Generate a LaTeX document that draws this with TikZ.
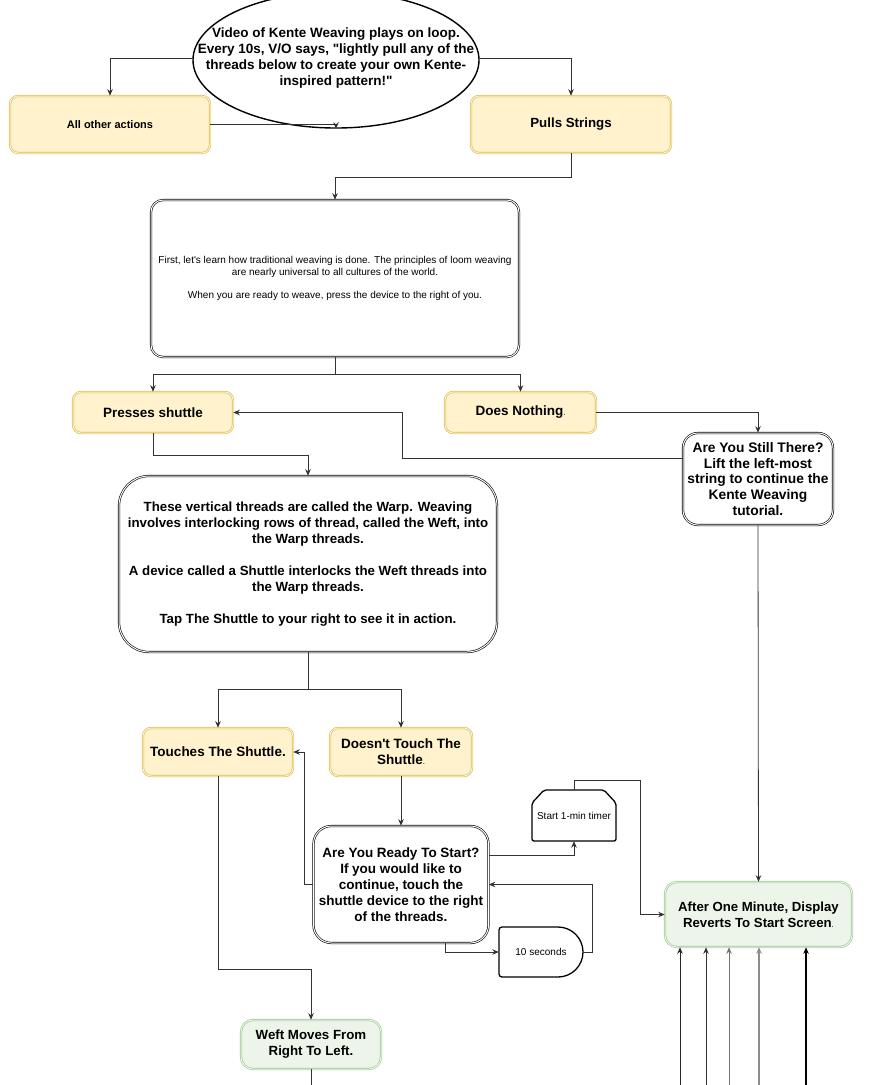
\documentclass[tikz,border=0pt]{standalone}
\usepackage{fontspec}
\setmainfont{Liberation Sans}[Ligatures=TeXOff]
\usetikzlibrary{shapes.geometric,arrows.meta}
\definecolor{yfill}{HTML}{FFF2CC}
\definecolor{ybord}{HTML}{D9BC5C}
\definecolor{gfill}{HTML}{EDF5EA}
\definecolor{gbord}{HTML}{98C78C}
\definecolor{conncol}{HTML}{333333}
\begin{document}
\begin{tikzpicture}[x=1pt,y=-1pt,
  yel/.style={draw=ybord, double=yfill, double distance=1pt, line width=0.6pt, fill=yfill, rounded corners=8pt, align=center, inner sep=2pt},
  grn/.style={draw=gbord, double=gfill, double distance=1pt, line width=0.6pt, fill=gfill, rounded corners=12pt, align=center, inner sep=2pt},
  wbox/.style={draw=black, double=white, double distance=1pt, line width=0.6pt, fill=white, align=center, inner sep=2pt},
  conn/.style={draw=conncol, line width=0.8pt, -{Stealth[length=6.5pt,width=5.5pt]}},
  plain/.style={draw=conncol, line width=0.8pt},
  bt/.style={font=\fontsize{13.5}{16}\selectfont\bfseries},
]
\useasboundingbox (0,0) rectangle (869,1085);

\node[ellipse, draw=black, line width=1.4pt, fill=white, minimum width=286pt, minimum height=136pt, inner sep=0pt] (start) at (336,60) {};
\node[align=center, inner sep=0pt, font=\fontsize{13.5}{16}\selectfont\bfseries] (starttext) at (336,58) {Video of Kente Weaving plays on loop.\\Every 10s, V/O says, "lightly pull any of the\\threads below to create your own Kente-\\inspired pattern!"};

\node[yel, minimum width=200pt, minimum height=57pt, font=\fontsize{11}{13}\selectfont\bfseries] (others) at (110,124.5) {All other actions};
\node[yel, minimum width=200pt, minimum height=57pt, font=\fontsize{13.3}{16}\selectfont\bfseries] (pulls) at (571,124.5) {Pulls Strings};

\node[wbox, rounded corners=12pt, minimum width=368pt, minimum height=157pt, font=\fontsize{10}{11.5}\selectfont] (info) at (335,278.5) {First, let's learn how traditional weaving is done. The principles of loom weaving\\are nearly universal to all cultures of the world.\\[11.5pt]When you are ready to weave, press the device to the right of you.};

\node[yel, minimum width=160pt, minimum height=41pt, bt] (presses) at (153,412.5) {Presses shuttle};
\node[yel, minimum width=151pt, minimum height=41pt, bt] (nothing) at (520.5,412.5) {Does Nothing{\fontsize{8}{8}\selectfont\mdseries .}};

\node[wbox, rounded corners=15pt, minimum width=150pt, minimum height=92pt, font=\fontsize{13.8}{15.8}\selectfont\bfseries, inner sep=0pt] (still) at (758,479) {Are You Still There?\\Lift the left-most\\string to continue the\\Kente Weaving\\tutorial.};

\node[wbox, rounded corners=30pt, minimum width=378pt, minimum height=176pt, font=\fontsize{13.3}{16}\selectfont\bfseries] (warp) at (308,564) {These vertical threads are called the Warp. Weaving\\involves interlocking rows of thread, called the Weft, into\\the Warp threads.\\[16pt]A device called a Shuttle interlocks the Weft threads into\\the Warp threads.\\[16pt]Tap The Shuttle to your right to see it in action.};

\node[yel, minimum width=150pt, minimum height=48pt, bt] (touches) at (218,752) {Touches The Shuttle.};
\node[yel, minimum width=142pt, minimum height=48pt, bt] (dont) at (401,752) {Doesn't Touch The\\Shuttle{\fontsize{8}{8}\selectfont\mdseries .}};

\node[wbox, rounded corners=18pt, minimum width=175pt, minimum height=117pt, bt, inner sep=0pt] (ready) at (401,884.5) {Are You Ready To Start?\\If you would like to\\continue, touch the\\shuttle device to the right\\of the threads.};

% timer (loop limit shape)
\draw[black, line width=1.3pt, rounded corners=2pt, fill=white] (532,841) -- (532,803) -- (544,790) -- (604,790) -- (616,803) -- (616,841) -- cycle;
\node[minimum width=84pt, minimum height=51pt, inner sep=0pt, font=\fontsize{10}{12}\selectfont] (timer) at (574,815.5) {Start 1-min timer};

% delay shape
\draw[black, line width=1.3pt, fill=white] (558,927) arc[start angle=-90, end angle=90, radius=25] -- (501,977) [rounded corners=3pt] -- (499,977) -- (499,927) [sharp corners] -- cycle;
\node[minimum width=84pt, minimum height=50pt, inner sep=0pt, font=\fontsize{10}{12}\selectfont] (delay) at (541,952) {10 seconds};

\node[grn, minimum width=187pt, minimum height=65pt, font=\fontsize{13.2}{16}\selectfont\bfseries] (after) at (758.5,914.5) {After One Minute, Display\\Reverts To Start Screen{\fontsize{8}{8}\selectfont\mdseries .}};
\node[grn, minimum width=140pt, minimum height=49pt, font=\fontsize{13.3}{16}\selectfont\bfseries] (weft) at (311,1044.5) {Weft Moves From\\Right To Left.};

% connectors
\draw[conn] ([yshift=2pt]start.west) -| (others.north);
\draw[conn] (others.east) -| (start.south);
\draw[conn] ([yshift=2pt]start.east) -| (pulls.north);
\draw[conn] (pulls.south) -- ++(0,24) -| (info.north);
\draw[conn] (info.south) -- ++(0,17) -| (presses.north);
\draw[conn] (info.south) -- ++(0,17) -| (nothing.north);
\draw[conn] (nothing.east) -| (still.north);
\draw[conn] ([yshift=21pt]still.west) -- ++(-280,0) |- (presses.east);
\draw[conn] (presses.south) -- ++(0,22) -| (warp.north);
\draw[conn] (warp.south) -- ++(0,37) -| (touches.north);
\draw[conn] (warp.south) -- ++(0,37) -| (dont.north);
\draw[conn] (dont.south) -- (ready.north);
\draw[conn] (ready.west) -- ++(-9,0) |- (touches.east);
\draw[conn] ([yshift=29.5pt]ready.east) -| (timer.south);
\draw[conn] (timer.north) -- ++(0,-9) -- ++(66,0) |- (after.west);
\draw[conn] ([xshift=44pt]ready.south) |- (delay.west);
\draw[conn] (delay.east) -- ++(9,0) |- (ready.east);
\draw[conn] (touches.south) -- ++(0,193) -| (weft.north);
\coordinate (wend) at (313,1085);
\draw[plain] (weft.south) -- (weft.south |- wend);
\draw[conn] (still.south) -- (after.north);

\coordinate (b1) at (680,1085);
\coordinate (b2) at (706,1085);
\coordinate (b3) at (729,1085);
\coordinate (b4) at (759,1085);
\coordinate (b5) at (806,1085);
\draw[conn, draw=black!85] (b1) -- (b1 |- after.south);
\draw[conn, draw=black!80] (b2) -- (b2 |- after.south);
\draw[conn, draw=black!55] (b3) -- (b3 |- after.south);
\draw[conn, draw=black!45, line width=1.2pt] (b4) -- (b4 |- after.south);
\draw[conn, draw=black, line width=1.4pt] (b5) -- (b5 |- after.south);
\end{tikzpicture}
\end{document}
